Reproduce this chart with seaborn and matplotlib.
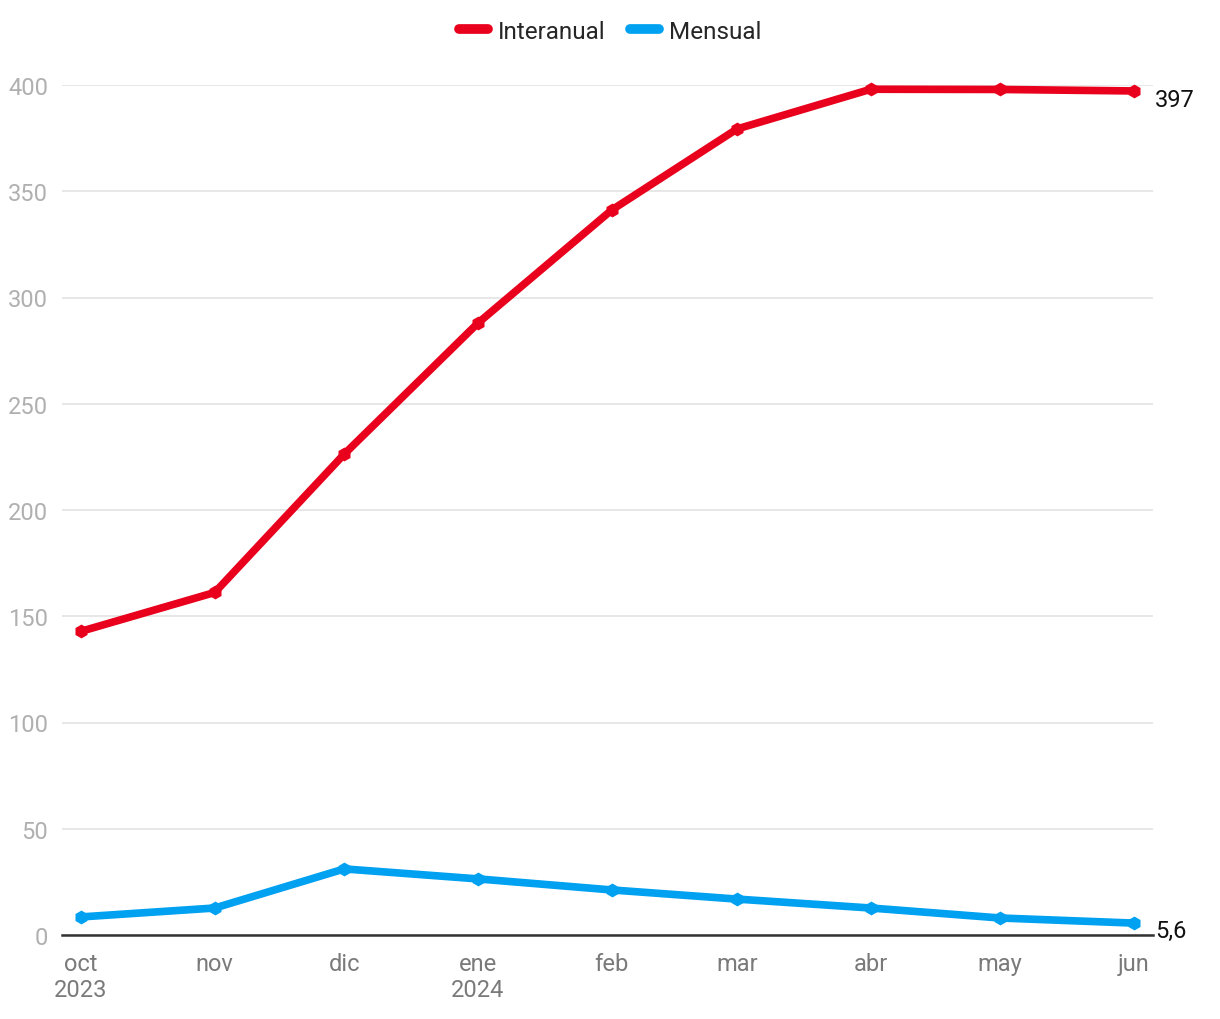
import matplotlib
matplotlib.use("Agg")
import matplotlib.pyplot as plt
import seaborn as sns
import pandas as pd
from matplotlib.lines import Line2D

months = ["2023-10-01", "2023-11-01", "2023-12-01", "2024-01-01", "2024-02-01",
          "2024-03-01", "2024-04-01", "2024-05-01", "2024-06-01"]
month_labels = ["oct\n2023", "nov", "dic", "ene\n2024", "feb", "mar", "abr", "may", "jun"]
interanual = [142.9, 161.2, 226.3, 288.0, 341.2, 379.3, 398.0, 397.9, 397.2]
mensual = [8.5, 12.7, 31.1, 26.4, 21.2, 16.9, 12.7, 8.0, 5.6]
series_names = ["Interanual", "Mensual"]
colors = {"Interanual": "#e8001c", "Mensual": "#00a1f1"}
yticks = [0, 50, 100, 150, 200, 250, 300, 350, 400]

dates = pd.to_datetime(months)
df = pd.DataFrame({
    "fecha": list(dates) * 2,
    "valor": interanual + mensual,
    "serie": ["Interanual"] * len(months) + ["Mensual"] * len(months),
})

sns.set_theme(style="white")
plt.rcParams["font.family"] = ["Roboto", "DejaVu Sans"]

fig = plt.figure(figsize=(12.2, 10.2), dpi=100)
ax = fig.add_axes([62 / 1220, 1 - 936 / 1020, (1153 - 62) / 1220, (936 - 86) / 1020])

sns.lineplot(data=df, x="fecha", y="valor", hue="serie", palette=colors,
             hue_order=series_names, linewidth=5.5, marker="h", markersize=10,
             markeredgewidth=0, legend=False, ax=ax, clip_on=False, zorder=3)

ax.set_ylim(0, 400)
ax.set_xlim(dates[0] - pd.Timedelta(days=4.4), dates[-1] + pd.Timedelta(days=4.4))
ax.set_yticks(yticks)
ax.set_yticklabels([str(v) for v in yticks])
ax.set_xticks(dates)
ax.set_xticklabels(month_labels)
ax.set_xlabel("")
ax.set_ylabel("")

ax.grid(axis="y", color="#e3e3e3", linewidth=1.2)
ax.grid(axis="x", visible=False)
for s in ["top", "right", "left"]:
    ax.spines[s].set_visible(False)
ax.spines["bottom"].set_color("#333333")
ax.spines["bottom"].set_linewidth(1.8)
ax.spines["bottom"].set_zorder(2)

ax.tick_params(axis="y", length=0, labelsize=17, labelcolor="#b0b0b0", pad=10)
ax.tick_params(axis="x", length=0, labelsize=17, labelcolor="#7a7a7a", pad=12)

ax.annotate("397", (dates[-1], interanual[-1]), xytext=(15, -6), textcoords="offset points",
            fontsize=17, color="#111111", ha="left", va="center")
ax.annotate("5,6", (dates[-1], mensual[-1]), xytext=(15, -5), textcoords="offset points",
            fontsize=17, color="#111111", ha="left", va="center")

handles = [Line2D([0], [0], color=colors[n], linewidth=7, solid_capstyle="round") for n in series_names]
fig.legend(handles, series_names, loc="upper center", bbox_to_anchor=(0.5, 0.994), ncol=2,
           frameon=False, fontsize=17.5, handlelength=1.2, handletextpad=0.4, columnspacing=1.0,
           borderaxespad=0.2)

fig.savefig("out.png", dpi=100)
